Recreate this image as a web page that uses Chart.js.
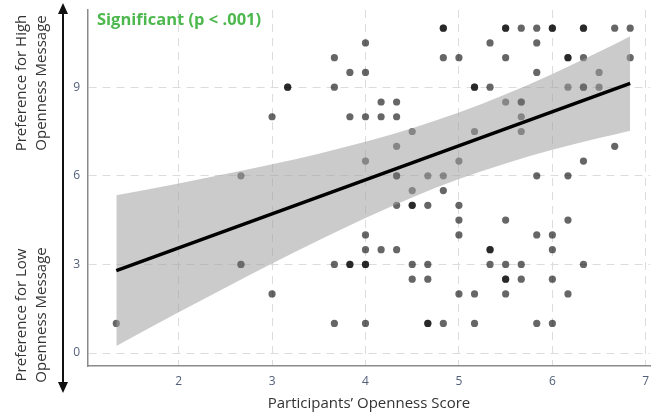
<!DOCTYPE html>
<html>
<head>
<meta charset="utf-8">
<script src="https://cdn.jsdelivr.net/npm/chart.js@4.4.0/dist/chart.umd.min.js"></script>
<style>
  html, body { margin: 0; padding: 0; background: #fff; }
  #wrap { width: 654px; height: 416px; position: relative; }
</style>
</head>
<body>
<div id="wrap"><canvas id="myChart" width="654" height="416"></canvas></div>
<script>
// ticks
const xTicks = [2, 3, 4, 5, 6, 7];
const yTicks = [0, 3, 6, 9];

// responses: one row per preference level, openness scores in that row
// (repeated values = overlapping participants, they show darker)
const rowY = [11, 10.5, 10, 9.5, 9, 8.5, 8, 7.5, 7, 6.5, 6, 5.5, 5, 4.5, 4, 3.5, 3, 2.5, 2, 1];
const rowX = [
  [4.833, 4.833, 5.5, 5.5, 5.667, 5.833, 6, 6, 6.333, 6.333, 6.667, 6.833],
  [4, 5.333, 5.833],
  [3.667, 4.833, 5, 5.5, 6.167, 6.167, 6.333, 6.833],
  [3.833, 4, 5.833, 6.5],
  [3.167, 3.167, 3.667, 5.167, 5.167, 5.333, 6.167, 6.333, 6.333, 6.5],
  [4.167, 4.333, 5.5, 5.667, 5.667],
  [3, 3.833, 4, 4.167, 4.333, 5.667],
  [4.5, 5.167, 5.667],
  [4.333, 6.667],
  [4, 5, 6.333],
  [2.667, 4.333, 4.333, 4.667, 4.833, 5.833, 6.167],
  [4.5, 4.833],
  [4.333, 4.5, 4.5, 4.667, 5],
  [5, 5.5, 6.167],
  [4, 5, 5.833, 6],
  [4, 4.167, 4.333, 5.333, 5.333, 6],
  [2.667, 2.667, 3.667, 3.833, 3.833, 4, 4, 4.5, 4.667, 5.333, 5.5, 5.667, 6.333],
  [4.5, 4.667, 5.5, 5.5, 5.667, 6],
  [3, 5, 5.167, 5.5, 6.167],
  [1.333, 3.667, 4, 4.667, 4.667, 4.833, 5.167, 5.833, 6]
];

// regression line and its confidence band
const fitX = [1.333, 6.833];
const fitY = [2.79, 9.13];
const bandX = [1.333, 2, 2.5, 3, 3.5, 4, 4.5, 5, 5.5, 6, 6.5, 6.833];
const bandLow = [0.24, 1.38, 2.21, 3.03, 3.82, 4.57, 5.27, 5.89, 6.42, 6.88, 7.28, 7.53];
const bandHigh = [5.34, 5.74, 6.06, 6.39, 6.75, 7.15, 7.61, 8.14, 8.76, 9.45, 10.20, 10.73];

const points = [];
rowY.forEach((y, i) => rowX[i].forEach(x => points.push({ x: x, y: y })));

const toXY = (xs, ys) => xs.map((x, i) => ({ x: x, y: ys[i] }));

// y-axis arrow + two-sided label, and the significance note
const sidePlugin = {
  id: 'sideLabels',
  afterDraw(chart) {
    const ctx = chart.ctx;
    const ax = 63;
    ctx.save();
    ctx.strokeStyle = '#111';
    ctx.fillStyle = '#111';
    ctx.lineWidth = 2;
    ctx.beginPath();
    ctx.moveTo(ax, 12);
    ctx.lineTo(ax, 383);
    ctx.stroke();
    ctx.beginPath();
    ctx.moveTo(ax, 3); ctx.lineTo(ax - 5, 14); ctx.lineTo(ax + 5, 14); ctx.closePath();
    ctx.fill();
    ctx.beginPath();
    ctx.moveTo(ax, 393); ctx.lineTo(ax - 5, 382); ctx.lineTo(ax + 5, 382); ctx.closePath();
    ctx.fill();

    ctx.fillStyle = '#333';
    ctx.font = '15px "Open Sans"';
    ctx.textAlign = 'center';
    ctx.textBaseline = 'middle';
    const block = (cy, l1, l2) => {
      ctx.save();
      ctx.translate(0, cy);
      ctx.rotate(-Math.PI / 2);
      ctx.fillText(l1, 0, 22);
      ctx.fillText(l2, 0, 42);
      ctx.restore();
    };
    block(83, 'Preference for High', 'Openness Message');
    block(315, 'Preference for Low', 'Openness Message');

    ctx.fillStyle = '#4db84d';
    ctx.font = 'bold 16.5px "Open Sans"';
    ctx.textAlign = 'left';
    ctx.fillText('Significant (p < .001)', 97, 20);
    ctx.restore();
  }
};

Chart.defaults.font.family = '"Open Sans", sans-serif';

new Chart(document.getElementById('myChart'), {
  type: 'scatter',
  data: {
    datasets: [
      {
        type: 'line',
        data: toXY(fitX, fitY),
        borderColor: '#000',
        borderWidth: 3.5,
        pointRadius: 0,
        fill: false,
        order: 0
      },
      {
        type: 'line',
        data: toXY(bandX, bandHigh),
        borderWidth: 0,
        borderColor: 'transparent',
        backgroundColor: 'rgba(160,160,160,0.55)',
        pointRadius: 0,
        cubicInterpolationMode: 'monotone',
        fill: '+1',
        order: 1
      },
      {
        type: 'line',
        data: toXY(bandX, bandLow),
        borderWidth: 0,
        borderColor: 'transparent',
        pointRadius: 0,
        cubicInterpolationMode: 'monotone',
        fill: false,
        order: 2
      },
      {
        data: points,
        backgroundColor: 'rgba(0,0,0,0.6)',
        borderWidth: 0,
        pointRadius: 3.6,
        order: 3
      }
    ]
  },
  options: {
    responsive: false,
    animation: false,
    layout: { padding: { top: 10, right: 0, left: 0, bottom: 0 } },
    plugins: { legend: { display: false }, tooltip: { enabled: false } },
    scales: {
      x: {
        type: 'linear',
        min: 1.03,
        max: 7.045,
        afterBuildTicks: s => { s.ticks = xTicks.map(v => ({ value: v })); },
        afterFit: s => { s.height = 50; s.paddingLeft = 0; s.paddingRight = 0; },
        grid: { color: '#dcdcdc', lineWidth: 1, drawTicks: false },
        border: { display: true, color: '#8a8a8a', width: 1.5, dash: [8, 6] },
        ticks: { color: '#52607a', font: { size: 12 }, padding: 8 },
        title: {
          display: true,
          text: 'Participants’ Openness Score',
          color: '#333',
          font: { size: 15 },
          padding: { top: 0, bottom: 3 }
        }
      },
      y: {
        type: 'linear',
        min: -0.44,
        max: 11.615,
        afterBuildTicks: s => { s.ticks = yTicks.map(v => ({ value: v })); },
        afterFit: s => { s.width = 88; s.paddingTop = 0; s.paddingBottom = 0; },
        grid: { color: '#dcdcdc', lineWidth: 1, drawTicks: false },
        border: { display: true, color: '#8a8a8a', width: 1.5, dash: [8, 6] },
        ticks: { color: '#52607a', font: { size: 12 }, padding: 8 }
      }
    }
  },
  plugins: [sidePlugin]
});
</script>
</body>
</html>
